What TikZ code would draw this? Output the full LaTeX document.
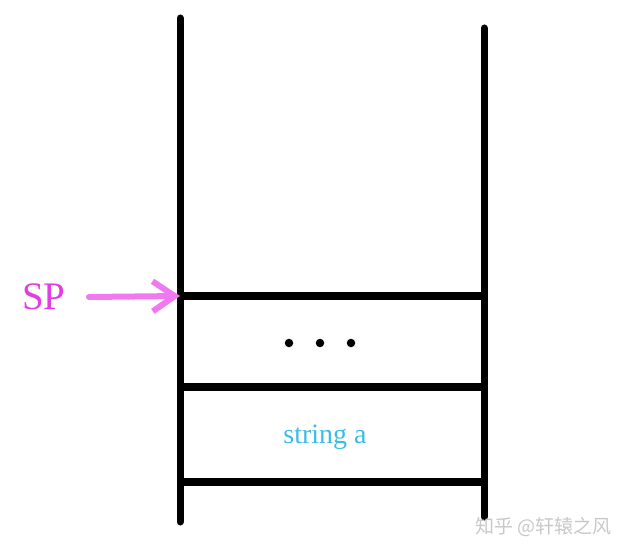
\documentclass[tikz,border=0pt]{standalone}
\usepackage{fontspec}
\setmainfont{Liberation Serif}
\newfontfamily\cjk{Noto Sans CJK SC}
\usetikzlibrary{arrows.meta}
\definecolor{spmag}{RGB}{226,60,226}
\definecolor{arrmag}{RGB}{240,120,240}
\definecolor{strcyan}{RGB}{60,188,228}
\definecolor{wmgray}{RGB}{200,200,200}
\tikzset{
  wall/.style={line width=7pt, line cap=round},
  shelf/.style={line width=7.5pt},
  dotmark/.style={circle, fill=black, inner sep=0pt, minimum size=8.5pt},
}
\begin{document}
\begin{tikzpicture}[x=1pt,y=-1pt]
\useasboundingbox (0,0) rectangle (626,556);
% walls
\coordinate (lt) at (180,18);
\coordinate (lb) at (180,522);
\coordinate (rt) at (484,28);
\coordinate (rb) at (484,517);
\draw[wall] (lt) -- (lb);
\draw[wall] (rt) -- (rb);
% shelves
\coordinate (s1l) at (180,296); \coordinate (s1r) at (484,296);
\coordinate (s2l) at (180,387); \coordinate (s2r) at (484,387);
\coordinate (s3l) at (180,482); \coordinate (s3r) at (484,482);
\draw[shelf] (s1l) -- (s1r);
\draw[shelf] (s2l) -- (s2r);
\draw[shelf] (s3l) -- (s3r);
% dots
\node[dotmark] (d1) at (289,343) {};
\node[dotmark] (d2) at (320,343) {};
\node[dotmark] (d3) at (351,343) {};
% string a
\node[text=strcyan, font=\fontsize{28}{32}\selectfont, inner sep=0pt] (str) at (325,437) {string a};
% SP
\node[text=spmag, font=\fontsize{39}{44}\selectfont, inner sep=0pt, anchor=center] (sp) at (44,297) {SP};
\coordinate (astart) at (89,297);
\draw[arrmag, line width=6pt, line cap=round, -{Straight Barb[length=22pt, width=30pt, line width=6pt]}] (astart) -- (s1l);
% watermark
\node[text=wmgray, font=\cjk\fontsize{19}{21}\selectfont, inner sep=0pt, anchor=west] (wm) at (475,527) {知乎 @轩辕之风};
\end{tikzpicture}
\end{document}
